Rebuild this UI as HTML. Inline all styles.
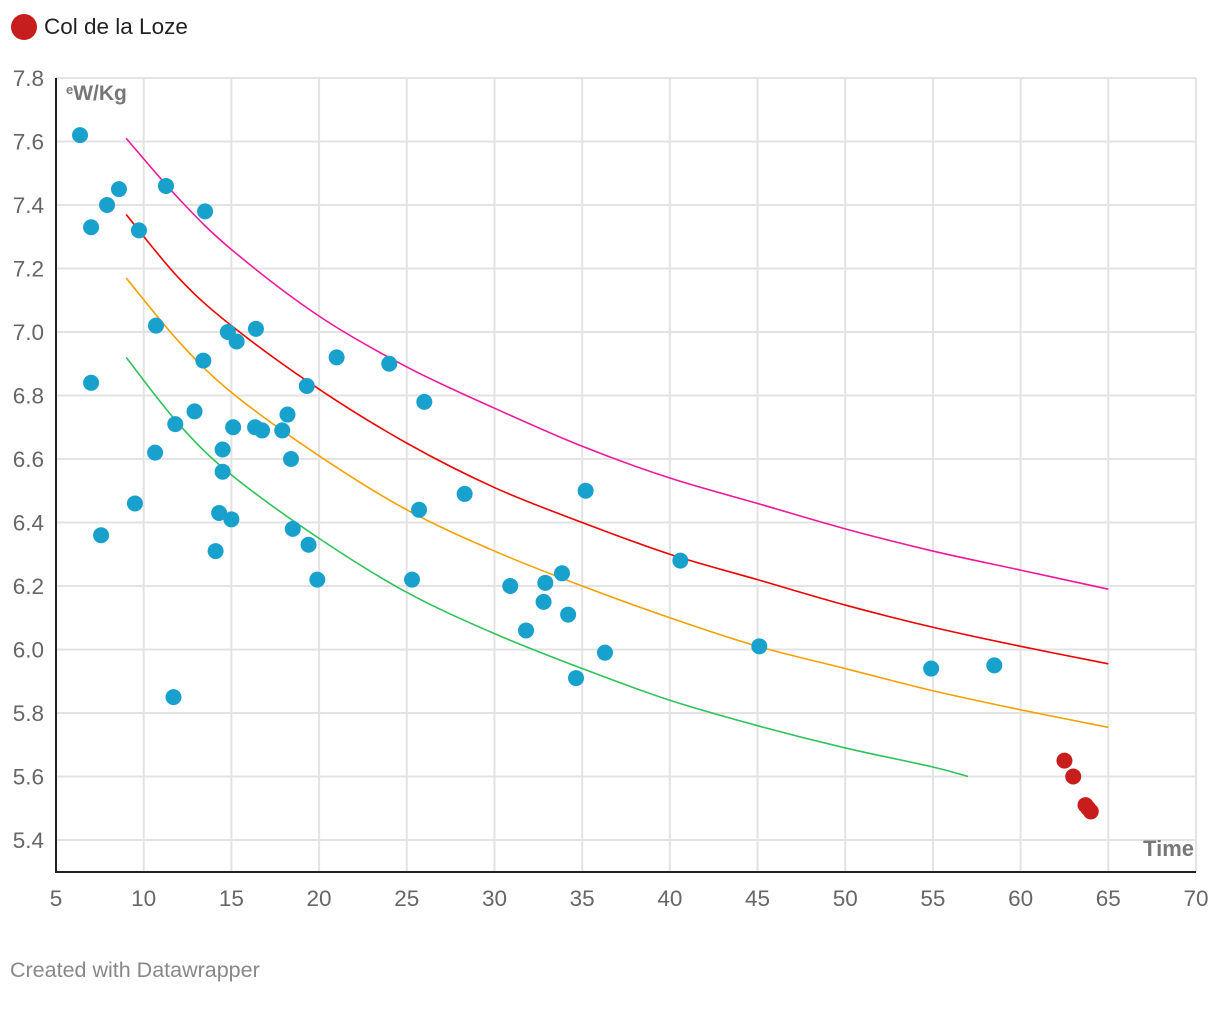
<!DOCTYPE html>
<html><head><meta charset="utf-8"><style>
body{margin:0;background:#fff;font-family:"Liberation Sans",sans-serif;}
svg text{font-family:"Liberation Sans",sans-serif;}
</style></head><body>
<svg id="chart" width="1220" height="1008">
<g>
<circle cx="24" cy="27" r="13" fill="#c71e1d"/>
<text x="44" y="34" font-size="22.5" fill="#222">Col de la Loze</text>
</g>
<g id="grid"></g><g id="lines"></g><g id="pts"></g>
<text x="66" y="100" font-size="21" font-weight="bold" fill="#777"><tspan font-size="13" dy="-6">e</tspan><tspan dy="6">W/Kg</tspan></text>
<text x="1194" y="856" font-size="22" font-weight="bold" fill="#777" text-anchor="end">Time</text>
<text x="10" y="977" font-size="21.5" fill="#888">Created with Datawrapper</text>
</svg>
<script>
const xTicks=[5,10,15,20,25,30,35,40,45,50,55,60,65,70];
const yTicks=[5.4,5.6,5.8,6.0,6.2,6.4,6.6,6.8,7.0,7.2,7.4,7.6,7.8];
const blueT=[6.37,7.0,7.91,8.59,9.73,11.27,13.5,7.0,10.7,14.8,16.4,15.3,13.4,21.0,24.0,19.3,26.0,12.9,11.8,15.1,16.35,16.75,17.9,18.2,14.5,10.65,18.4,14.5,28.3,35.2,9.5,25.7,14.3,15.0,7.57,18.5,19.4,14.1,40.6,19.9,25.3,30.9,32.9,33.85,32.8,34.2,31.8,45.1,36.3,54.9,58.5,34.65,11.7];
const blueV=[7.62,7.33,7.40,7.45,7.32,7.46,7.38,6.84,7.02,7.00,7.01,6.97,6.91,6.92,6.90,6.83,6.78,6.75,6.71,6.70,6.70,6.69,6.69,6.74,6.63,6.62,6.60,6.56,6.49,6.50,6.46,6.44,6.43,6.41,6.36,6.38,6.33,6.31,6.28,6.22,6.22,6.20,6.21,6.24,6.15,6.11,6.06,6.01,5.99,5.94,5.95,5.91,5.85];
const redT=[62.5,63.0,63.7,63.85,64.0];
const redV=[5.65,5.60,5.51,5.50,5.49];
const curveT=[9,12,15,20,25,30,35,40,45,50,55,60,65];
const pinkV=[7.61,7.42,7.26,7.05,6.89,6.76,6.64,6.54,6.46,6.38,6.31,6.25,6.19];
const redLineV=[7.37,7.17,7.02,6.82,6.65,6.51,6.40,6.30,6.22,6.14,6.07,6.01,5.955];
const orangeV=[7.17,6.97,6.81,6.61,6.44,6.31,6.20,6.10,6.01,5.94,5.87,5.81,5.755];
const greenT=[9,12,15,20,25,30,35,40,45,50,55,57];
const greenV=[6.92,6.71,6.55,6.35,6.18,6.05,5.94,5.84,5.76,5.69,5.63,5.60];
const NS='http://www.w3.org/2000/svg';
const X=t=>56+(t-5)*1140/65;
const Y=v=>78+(7.8-v)*317.5;
function mk(tag,a,p){const e=document.createElementNS(NS,tag);for(const k in a)e.setAttribute(k,a[k]);p.appendChild(e);return e;}
const g=document.getElementById('grid');
yTicks.forEach(v=>{
 const l=mk('line',{x1:56,x2:1196,y1:Y(v),y2:Y(v),stroke:'#e3e3e3','stroke-width':2},g);
 
 
 const t=mk('text',{x:44,y:Y(v)+8,'font-size':22.5,fill:'#666','text-anchor':'end'},g);t.textContent=v.toFixed(1);
 
 
});
xTicks.forEach(v=>{
 if(v>5){const l=mk('line',{x1:X(v),x2:X(v),y1:78,y2:872,stroke:'#e3e3e3','stroke-width':2},g);
 
 }
 const t=mk('text',{x:X(v),y:906,'font-size':22.5,fill:'#666','text-anchor':'middle'},g);t.textContent=v;
 
 
});
const ax=mk('line',{x1:56,x2:56,y1:78,y2:873,stroke:'#222','stroke-width':2},g);


const bx=mk('line',{x1:55,x2:1196,y1:872,y2:872,stroke:'#222','stroke-width':2},g);


const L=document.getElementById('lines');
function curve(ts,vs,col,name){
 const p=ts.map((t,i)=>[X(t),Y(vs[i])]);
 let d='M'+p[0][0]+','+p[0][1];
 for(let i=0;i<p.length-1;i++){
  const p0=p[Math.max(0,i-1)],p1=p[i],p2=p[i+1],p3=p[Math.min(p.length-1,i+2)];
  const c1=[p1[0]+(p2[0]-p0[0])/6,p1[1]+(p2[1]-p0[1])/6],c2=[p2[0]-(p3[0]-p1[0])/6,p2[1]-(p3[1]-p1[1])/6];
  d+=' C'+c1+' '+c2+' '+p2;
 }
 const e=mk('path',{d:d,fill:'none',stroke:col,'stroke-width':1.6},L);
 
 
}
curve(curveT,pinkV,'#f0189b','pink-curve');
curve(curveT,redLineV,'#ee0000','red-curve');
curve(curveT,orangeV,'#f5a000','orange-curve');
curve(greenT,greenV,'#2fc25b','green-curve');
const P=document.getElementById('pts');
blueT.forEach((t,i)=>{
 const c=mk('circle',{cx:X(t),cy:Y(blueV[i]),r:8,fill:'#18a1cd'},P);
 
 
});
redT.forEach((t,i)=>{
 const c=mk('circle',{cx:X(t),cy:Y(redV[i]),r:8,fill:'#c71e1d'},P);
 
 
});
</script>
</body></html>
